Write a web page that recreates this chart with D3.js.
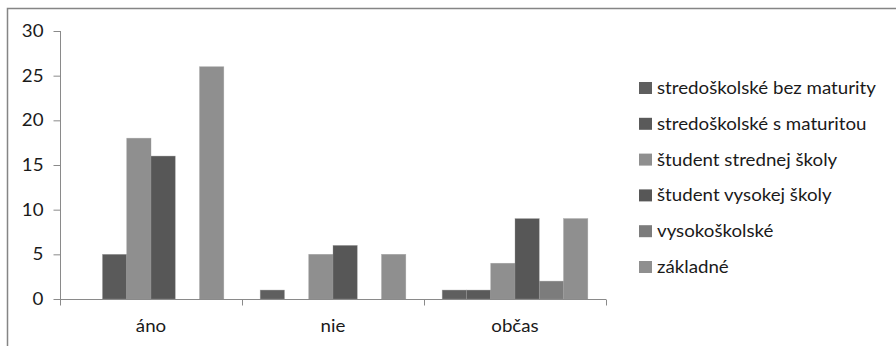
<!DOCTYPE html>
<html>
<head>
<meta charset="utf-8">
<script src="https://cdn.jsdelivr.net/npm/d3@7"></script>
<style>
  html, body { margin: 0; padding: 0; background: #fff; }
  svg { display: block; }
  text { font-family: Lato, "Open Sans", sans-serif; fill: #1a1a1a; }
</style>
</head>
<body>
<svg id="chart" width="896" height="346"></svg>
<script>
// Categories on the x axis
const categories = ["áno", "nie", "občas"];

// One series per education level
const seriesNames = [
  "stredoškolské bez maturity",
  "stredoškolské s maturitou",
  "študent strednej školy",
  "študent vysokej školy",
  "vysokoškolské",
  "základné"
];

// Counts per series, in the order of the categories
const bezMaturity   = [0, 1, 1];
const sMaturitou    = [5, 0, 1];
const studentSS     = [18, 5, 4];
const studentVS     = [16, 6, 9];
const vysokoskolske = [0, 0, 2];
const zakladne      = [26, 5, 9];

const yTicks = [0, 5, 10, 15, 20, 25, 30];

const seriesValues = [bezMaturity, sMaturitou, studentSS, studentVS, vysokoskolske, zakladne];
const seriesColors = ["#5f5f5f", "#5a5a5a", "#8f8f8f", "#575757", "#7c7c7c", "#8f8f8f"];

const FONT_SIZE = 17;
const STRETCH = 1.1;   // slightly wide lettering

// widen a text element horizontally while keeping its anchor
function widen(sel) {
  sel.each(function () {
    const w = this.getComputedTextLength();
    if (w > 0) {
      this.setAttribute("textLength", (w * STRETCH).toFixed(1));
      this.setAttribute("lengthAdjust", "spacingAndGlyphs");
    }
  });
}

const svg = d3.select("#chart");

// outer frame
svg.append("rect")
  .attr("x", 7.5).attr("y", 8.5)
  .attr("width", 900).attr("height", 360)
  .attr("fill", "none").attr("stroke", "#858585").attr("stroke-width", 1.5);

const plot = { left: 60, right: 606, top: 31, bottom: 299 };

const x0 = d3.scaleBand()
  .domain(categories)
  .range([plot.left, plot.right])
  .paddingInner(0).paddingOuter(0);

const x1 = d3.scaleBand()
  .domain(d3.range(seriesNames.length))
  .range([0, x0.bandwidth()])
  .paddingOuter(0.75).paddingInner(0);

const y = d3.scaleLinear().domain([0, 30]).range([plot.bottom, plot.top]);

// y axis
const yAxis = svg.append("g")
  .attr("transform", `translate(${plot.left + 0.5},0)`)
  .call(d3.axisLeft(y).tickValues(yTicks).tickSize(7).tickPadding(10).tickSizeOuter(0));
yAxis.select(".domain").attr("stroke", "#8a8a8a")
  .attr("d", `M0,${plot.top}V${plot.bottom + 6}`);
yAxis.selectAll(".tick line").attr("stroke", "#8a8a8a");
yAxis.selectAll(".tick text")
  .attr("font-size", FONT_SIZE).attr("font-family", "Lato, sans-serif").attr("fill", "#1a1a1a")
  .call(widen);

// bars
const groups = svg.append("g").selectAll("g")
  .data(categories)
  .join("g")
  .attr("transform", d => `translate(${x0(d)},0)`);

groups.selectAll("rect")
  .data((c, ci) => seriesValues.map((vals, si) => ({ si, v: vals[ci] })))
  .join("rect")
  .filter(d => d.v > 0)
  .attr("x", d => x1(d.si))
  .attr("y", d => y(d.v))
  .attr("width", x1.bandwidth())
  .attr("height", d => y(0) - y(d.v))
  .attr("fill", d => seriesColors[d.si])
  .attr("stroke", "#9a9a9a").attr("stroke-width", 0.6).attr("stroke-opacity", 0.6);

// x axis
const xAxisG = svg.append("g").attr("transform", `translate(0,${plot.bottom + 0.5})`);
xAxisG.append("line")
  .attr("x1", plot.left).attr("x2", plot.right)
  .attr("stroke", "#8a8a8a");
const boundaries = categories.map(c => x0(c)).concat([x0.range()[1]]);
xAxisG.selectAll("line.tick")
  .data(boundaries)
  .join("line").attr("class", "tick")
  .attr("x1", d => Math.round(d) + 0.5).attr("x2", d => Math.round(d) + 0.5)
  .attr("y1", 0).attr("y2", 6)
  .attr("stroke", "#8a8a8a");
xAxisG.selectAll("text")
  .data(categories)
  .join("text")
  .attr("x", d => x0(d) + x0.bandwidth() / 2)
  .attr("y", 32)
  .attr("text-anchor", "middle")
  .attr("font-size", FONT_SIZE)
  .text(d => d)
  .call(widen);

// legend
const legend = svg.append("g").attr("transform", "translate(639,0)");
const legendRows = legend.selectAll("g")
  .data(seriesNames)
  .join("g")
  .attr("transform", (d, i) => `translate(0,${88 + i * 35.8})`);
legendRows.append("rect")
  .attr("x", 0).attr("y", -6)
  .attr("width", 13).attr("height", 12)
  .attr("fill", (d, i) => seriesColors[i]);
legendRows.append("text")
  .attr("x", 18).attr("y", 6)
  .attr("font-size", FONT_SIZE)
  .text(d => d)
  .call(widen);
</script>
</body>
</html>
